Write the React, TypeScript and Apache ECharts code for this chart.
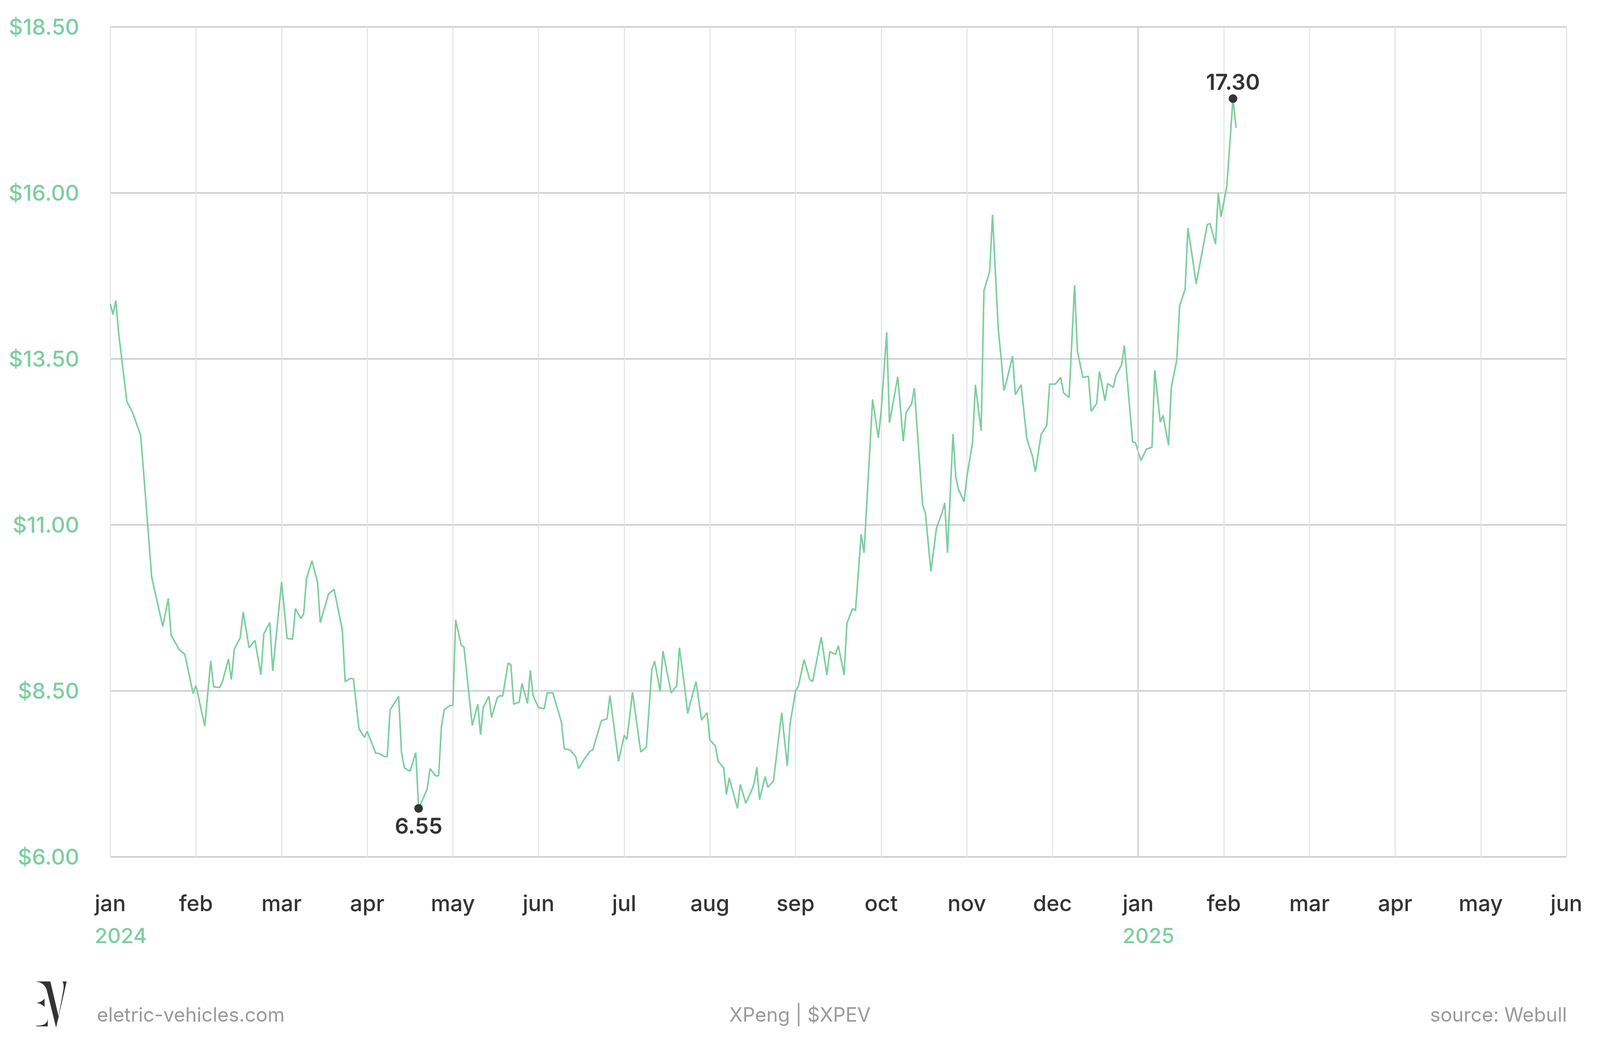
import { useEffect, useRef } from "react";
import * as echarts from "echarts";

// XPEV daily closes, [day of month, close]
const jan24 = [[1, 14.33], [2, 14.17], [3, 14.38], [4, 13.9], [7, 12.86], [9, 12.7], [12, 12.35], [13, 11.83], [16, 10.21], [20, 9.47], [22, 9.89], [23, 9.34], [26, 9.12], [28, 9.05], [31, 8.46]];
const feb24 = [[1, 8.58], [4, 7.97], [6, 8.95], [7, 8.56], [9, 8.55], [10, 8.64], [12, 8.98], [13, 8.67], [14, 9.13], [16, 9.3], [17, 9.69], [19, 9.15], [21, 9.26], [23, 8.74], [24, 9.36], [26, 9.53], [27, 8.8]];
const mar24 = [[1, 10.14], [3, 9.29], [5, 9.28], [6, 9.74], [8, 9.59], [9, 9.66], [10, 10.19], [12, 10.46], [14, 10.14], [15, 9.53], [18, 9.96], [20, 10.03], [23, 9.41], [24, 8.64], [26, 8.69], [27, 8.68], [29, 7.93], [31, 7.8]];
const apr24 = [[1, 7.89], [4, 7.56], [5, 7.56], [7, 7.51], [8, 7.51], [9, 8.21], [12, 8.42], [13, 7.57], [14, 7.34], [16, 7.29], [18, 7.57], [19, 6.73], [22, 7.02], [23, 7.33], [25, 7.22], [26, 7.22], [27, 7.97], [28, 8.22], [30, 8.28]];
const may24 = [[1, 8.28], [2, 9.57], [4, 9.19], [5, 9.16], [8, 7.98], [10, 8.3], [11, 7.84], [12, 8.25], [14, 8.42], [15, 8.1], [17, 8.39], [18, 8.43], [19, 8.42], [21, 8.92], [22, 8.89], [23, 8.3], [25, 8.33], [26, 8.61], [28, 8.31], [29, 8.81], [30, 8.43]];
const jun24 = [[1, 8.25], [3, 8.23], [4, 8.47], [6, 8.47], [9, 8.03], [10, 7.63], [12, 7.61], [14, 7.51], [15, 7.33], [17, 7.47], [19, 7.59], [20, 7.61], [23, 8.05], [25, 8.08], [26, 8.43], [29, 7.44]];
const jul24 = [[1, 7.83], [2, 7.77], [4, 8.48], [7, 7.58], [9, 7.65], [11, 8.82], [12, 8.95], [14, 8.49], [15, 9.1], [18, 8.47], [20, 8.58], [21, 9.15], [23, 8.51], [24, 8.16], [25, 8.33], [27, 8.64], [29, 8.06], [31, 8.17]];
const aug24 = [[1, 7.76], [3, 7.67], [4, 7.44], [6, 7.34], [7, 6.94], [8, 7.19], [11, 6.73], [12, 7.09], [14, 6.81], [16, 6.99], [17, 7.1], [18, 7.35], [19, 6.86], [21, 7.21], [22, 7.05], [24, 7.14], [27, 8.17], [29, 7.37], [30, 8.0], [31, 8.24]];
const sep24 = [[1, 8.5], [2, 8.57], [4, 8.97], [6, 8.67], [7, 8.64], [10, 9.31], [12, 8.74], [13, 9.09], [15, 9.05], [16, 9.18], [18, 8.74], [19, 9.52], [21, 9.74], [22, 9.71], [24, 10.86], [25, 10.58], [28, 12.89], [30, 12.31]];
const oct24 = [[1, 12.72], [3, 13.9], [4, 12.54], [7, 13.23], [9, 12.26], [10, 12.69], [12, 12.82], [13, 13.06], [15, 11.87], [16, 11.3], [17, 11.18], [19, 10.3], [21, 10.95], [23, 11.18], [24, 11.33], [25, 10.58], [27, 12.37], [28, 11.72], [29, 11.53], [31, 11.35]];
const nov24 = [[1, 11.72], [3, 12.24], [4, 13.11], [6, 12.42], [7, 14.53], [9, 14.82], [10, 15.67], [12, 13.95], [13, 13.52], [14, 13.02], [15, 13.18], [17, 13.54], [18, 12.96], [20, 13.11], [22, 12.3], [24, 12.03], [25, 11.8], [27, 12.36], [29, 12.5], [30, 13.12]];
const dec24 = [[2, 13.12], [4, 13.22], [5, 12.99], [7, 12.92], [9, 14.61], [10, 13.62], [12, 13.22], [14, 13.24], [15, 12.71], [17, 12.83], [18, 13.31], [20, 12.87], [21, 13.13], [23, 13.07], [24, 13.25], [26, 13.41], [27, 13.7], [30, 12.25], [31, 12.24]];
const jan25 = [[2, 11.97], [4, 12.14], [6, 12.17], [7, 13.33], [9, 12.55], [10, 12.65], [12, 12.2], [13, 13.07], [15, 13.49], [16, 14.3], [18, 14.55], [19, 15.47], [21, 14.93], [22, 14.63], [26, 15.52], [27, 15.54], [29, 15.23], [30, 16.0], [31, 15.64]];
const feb25 = [[2, 16.11], [4, 17.42], [5, 16.98]];

const closesByMonth = [jan24, feb24, mar24, apr24, may24, jun24, jul24, aug24, sep24, oct24, nov24, dec24, jan25, feb25];

const monthTicks = ["jan", "feb", "mar", "apr", "may", "jun", "jul", "aug", "sep", "oct", "nov", "dec", "jan", "feb", "mar", "apr", "may", "jun"];
const yearTicks: Record<number, string> = { 0: "2024", 12: "2025" };

const priceTicks = [6, 8.5, 11, 13.5, 16, 18.5];

// annotated extremes: [month index, day, label]
const lowMark: [number, number, string] = [3, 19, "6.55"];
const highMark: [number, number, string] = [13, 4, "17.30"];

const GREEN = "#7dcea0";
const DARK = "#333333";
const GREY = "#9a9a9a";
const FONT = "Inter";

// layout is designed on a 6196 x 2709 canvas and scaled to the real container
const BASE_W = 6196;
const BASE_H = 2709;

const LOGO =
  "M0 0L165 0L262 272L232 355L125 70C112 35 70 4 0 2Z" +
  "M305 0L355 0L232 355L250 305L318 60C322 30 318 10 305 0Z" +
  "M0 165C40 163 80 150 98 130L98 198C80 180 40 167 0 165Z" +
  "M0 340L0 345L135 345L135 285C128 325 90 340 0 340Z";

let logoRegistered = false;

const daysIn = (m: number) => new Date(2024, m + 1, 0).getDate();
const monthPos = (m: number, d: number) => m + (d - 1) / daysIn(m);

export default function App() {
  const ref = useRef<HTMLDivElement>(null);

  useEffect(() => {
    document.body.style.margin = "0";
    if (!ref.current) return;
    if (!logoRegistered) {
      echarts.graphic.registerShape("evLogo", echarts.graphic.extendPath(LOGO, {}));
      logoRegistered = true;
    }
    const W = ref.current.clientWidth || BASE_W;
    const H = ref.current.clientHeight || BASE_H;
    const sx = W / BASE_W;
    const sy = H / BASE_H;
    const f = (sx + sy) / 2;
    const X = (v: number) => v * sx;
    const Y = (v: number) => v * sy;
    const F = (v: number) => Math.round(v * f);

    const chart = echarts.init(ref.current, null, { renderer: "svg" });

    const points = closesByMonth.flatMap((arr, m) =>
      arr.map(([d, v]) => [monthPos(m, d), v])
    );

    const markAt = ([m, d, label]: [number, number, string], pos: string) => {
      const v = closesByMonth[m].find((p) => p[0] === d)![1];
      return {
        coord: [monthPos(m, d), v],
        value: label,
        label: { position: pos, distance: pos === "top" ? 4 : 6 },
      };
    };

    const monthFs = F(68);
    const yearFs = F(64);
    const lh = Y(83);
    const labelMargin = Y(2333) - Y(2194) - lh / 2 - 0.35 * monthFs;

    chart.setOption({
      animation: false,
      backgroundColor: "#ffffff",
      grid: { left: X(427), right: X(130), top: Y(69), bottom: Y(515), containLabel: false },
      xAxis: {
        type: "value",
        min: 0,
        max: monthTicks.length - 1,
        interval: 1,
        axisLine: { show: false },
        axisTick: { show: false },
        splitLine: { show: true, lineStyle: { color: "#e6e6e6", width: 3 } },
        axisLabel: {
          margin: labelMargin,
          align: "center",
          verticalAlign: "top",
          showMinLabel: true,
          showMaxLabel: true,
          hideOverlap: false,
          formatter: (v: number) => {
            const i = Math.round(v);
            const y = yearTicks[i];
            return y ? `{m|${monthTicks[i]}}\n{y|${y}}` : `{m|${monthTicks[i]}}`;
          },
          rich: {
            m: { fontFamily: FONT, fontSize: monthFs, fontWeight: 500, color: DARK, lineHeight: lh },
            y: { fontFamily: FONT, fontSize: yearFs, fontWeight: 500, color: GREEN, lineHeight: lh, width: 1, align: "left" },
          },
        },
      },
      yAxis: {
        type: "value",
        min: priceTicks[0],
        max: priceTicks[priceTicks.length - 1],
        interval: priceTicks[1] - priceTicks[0],
        axisLine: { show: false },
        axisTick: { show: false },
        splitLine: { show: true, lineStyle: { color: "#d0d0d0", width: 4 } },
        axisLabel: {
          margin: X(120),
          fontFamily: FONT,
          fontSize: F(68),
          fontWeight: 500,
          color: GREEN,
          formatter: (v: number) => "$" + v.toFixed(2),
        },
      },
      series: [
        {
          type: "line",
          data: points,
          showSymbol: false,
          symbol: "none",
          lineStyle: { color: GREEN, width: 4 },
          itemStyle: { color: GREEN },
          z: 3,
          markLine: {
            silent: true,
            symbol: ["none", "none"],
            label: { show: false },
            lineStyle: { color: "#cfcfcf", width: 3, type: "solid" },
            data: [{ xAxis: 12 }],
          },
          markPoint: {
            silent: true,
            symbol: "circle",
            symbolSize: F(27),
            itemStyle: { color: DARK },
            label: {
              show: true,
              fontFamily: FONT,
              fontSize: F(68),
              fontWeight: 600,
              color: DARK,
              formatter: (p: any) => p.value,
            },
            data: [markAt(lowMark, "bottom"), markAt(highMark, "top")],
          },
        },
      ],
      graphic: [
        { type: "evLogo", x: X(140), y: Y(2513), scaleX: sx / 3, scaleY: sy / 3, style: { fill: DARK } },
        {
          type: "text",
          x: X(375),
          y: Y(2598),
          style: { text: "eletric-vehicles.com", fontFamily: FONT, fontSize: F(60), fill: GREY, align: "left", verticalAlign: "middle" },
        },
        {
          type: "text",
          x: X(3098),
          y: Y(2598),
          style: { text: "XPeng | $XPEV", fontFamily: FONT, fontSize: F(60), fill: GREY, align: "center", verticalAlign: "middle" },
        },
        {
          type: "text",
          x: X(6068),
          y: Y(2598),
          style: { text: "source: Webull", fontFamily: FONT, fontSize: F(60), fill: GREY, align: "right", verticalAlign: "middle" },
        },
      ],
    });

    return () => chart.dispose();
  }, []);

  return <div ref={ref} style={{ width: "100vw", height: "100vh" }} />;
}
